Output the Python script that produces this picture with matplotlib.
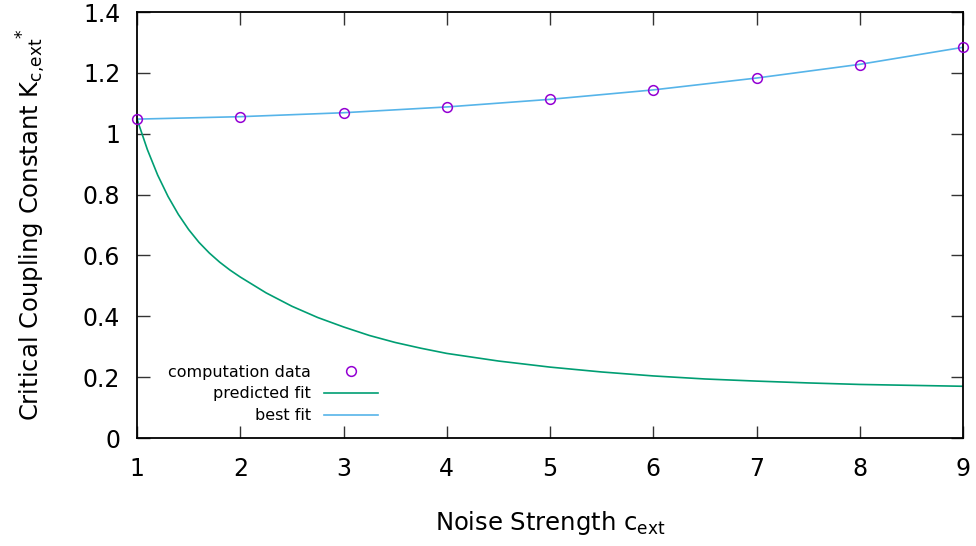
import matplotlib
matplotlib.use("Agg")
import matplotlib.pyplot as plt

# computation data
c_ext = [1, 2, 3, 4, 5, 6, 7, 8, 9]
k_data = [1.048, 1.055, 1.069, 1.087, 1.114, 1.143, 1.184, 1.227, 1.286]

# best fit curve
best_x = [1, 2, 3, 4, 5, 6, 7, 8, 9]
best_y = [1.048, 1.056, 1.069, 1.088, 1.113, 1.144, 1.183, 1.228, 1.284]

# predicted fit curve
pred_x = [1.0, 1.1, 1.2, 1.3, 1.4, 1.5, 1.6, 1.7, 1.8, 1.9, 2.0,
          2.25, 2.5, 2.75, 3.0, 3.25, 3.5, 3.75, 4.0,
          4.5, 5.0, 5.5, 6.0, 6.5, 7.0, 7.5, 8.0, 8.5, 9.0]
pred_y = [1.048, 0.948, 0.864, 0.794, 0.735, 0.685, 0.643, 0.608, 0.578, 0.552, 0.529,
          0.477, 0.433, 0.396, 0.365, 0.337, 0.314, 0.295, 0.278,
          0.253, 0.233, 0.217, 0.204, 0.194, 0.187, 0.181, 0.176, 0.173, 0.170]

xticks = [1, 2, 3, 4, 5, 6, 7, 8, 9]
yticks = [0, 0.2, 0.4, 0.6, 0.8, 1.0, 1.2, 1.4]
ytick_labels = ["0", "0.2", "0.4", "0.6", "0.8", "1", "1.2", "1.4"]

plt.rcParams["font.family"] = ["DejaVu Sans"]
plt.rcParams["mathtext.fontset"] = "dejavusans"

fig = plt.figure(figsize=(9.76, 5.46), dpi=100)
ax = fig.add_axes([0.1404, 0.1978, 0.8463, 0.7802])

ax.plot(c_ext, k_data, linestyle="none", marker="o", markersize=7,
        markerfacecolor="none", markeredgecolor="#9400d3", markeredgewidth=1.1,
        label="computation data", clip_on=False, zorder=3)
ax.plot(pred_x, pred_y, color="#009e73", linewidth=1.2, label="predicted fit")
ax.plot(best_x, best_y, color="#56b4e9", linewidth=1.2, label="best fit")

ax.set_xlim(1, 9)
ax.set_ylim(0, 1.4)
ax.set_xticks(xticks)
ax.set_xticklabels([str(t) for t in xticks])
ax.set_yticks(yticks)
ax.set_yticklabels(ytick_labels)
ax.tick_params(direction="in", length=9, width=1, top=True, right=True,
               labelsize=17, color="#333333")
ax.tick_params(axis="x", pad=14)
ax.tick_params(axis="y", pad=12)
for s in ax.spines.values():
    s.set_linewidth(1.3)

ax.set_xlabel(r"Noise Strength c$_\mathrm{ext}$", fontsize=17.5, labelpad=20)
ax.set_ylabel(r"Critical Coupling Constant K$_\mathrm{c{,}ext}$$^{*}$", fontsize=17.5,
              labelpad=25)

ax.legend(loc="lower left", bbox_to_anchor=(0.03, 0.02), frameon=False,
          markerfirst=False, fontsize=11.5, handlelength=3.4, handletextpad=0.8,
          labelspacing=0.42, borderaxespad=0)

fig.savefig("out.png", dpi=100)
